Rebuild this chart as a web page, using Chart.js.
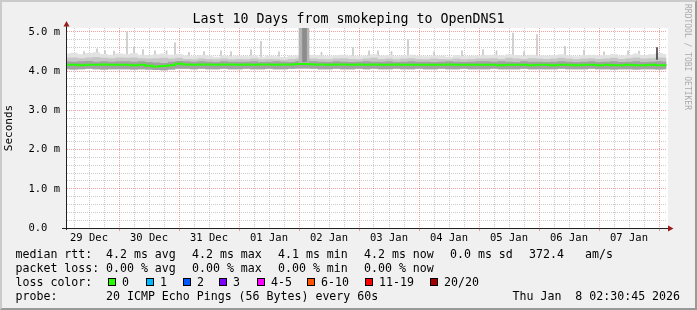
<!DOCTYPE html>
<html>
<head>
<meta charset="utf-8">
<title>Last 10 Days from smokeping to OpenDNS1</title>
<script src="https://cdn.jsdelivr.net/npm/chart.js@4.4.1/dist/chart.umd.min.js"></script>
<style>
  html, body { margin: 0; padding: 0; background: #f0f0f0; }
  #wrap { position: relative; width: 697px; height: 310px; overflow: hidden; background: #f0f0f0; }
  #smoke { position: absolute; left: 0; top: 0; }
  #frame { position: absolute; left: 0; top: 0; width: 697px; height: 310px; box-sizing: border-box;
           border: 2px solid; border-color: #cbcbcb #999999 #999999 #cbcbcb; pointer-events: none; }
  .txt { position: absolute; font-family: "DejaVu Sans Mono", monospace; font-size: 11.6px; line-height: 14px; white-space: pre; color: #000; }
  #title { position: absolute; left: 0; top: 11px; width: 697px; text-align: center; font-family: "DejaVu Sans Mono", monospace;
           font-size: 13.3px; line-height: 16px; white-space: pre; color: #000; }
  #credit { position: absolute; left: 683px; top: 4px; writing-mode: vertical-rl; font-family: "DejaVu Sans Mono", monospace;
            font-size: 8px; line-height: 9px; color: #aaaaaa; white-space: pre; }
  .box { position: absolute; width: 6px; height: 6px; border: 1px solid #000; }
</style>
</head>
<body>
<div id="wrap">
  <canvas id="smoke" width="697" height="310"></canvas>
  <div id="title">Last 10 Days from smokeping to OpenDNS1</div>
  <div id="credit">RRDTOOL / TOBI OETIKER</div>
  <div id="legend"></div>
  <div id="frame"></div>
</div>
<script>
// hours since 29 Dec 00:00, one sample every 3 hours
const sampleHours = [
    3, 6, 9, 12, 15, 18, 21, 24,
    27, 30, 33, 36, 39, 42, 45, 48,
    51, 54, 57, 60, 63, 66, 69, 72,
    75, 78, 81, 84, 87, 90, 93, 96,
    99, 102, 105, 108, 111, 114, 117, 120,
    123, 126, 129, 132, 135, 138, 141, 144,
    147, 150, 153, 156, 159, 162, 165, 168,
    171, 174, 177, 180, 183, 186, 189, 192,
    195, 198, 201, 204, 207, 210, 213, 216,
    219, 222, 225, 228, 231, 234, 237, 240,
    243
];

// median rtt (ms)
const medianRtt = [
    4.16, 4.16, 4.15, 4.16, 4.16, 4.17, 4.16, 4.16,
    4.16, 4.15, 4.16, 4.14, 4.12, 4.13, 4.15, 4.19,
    4.17, 4.16, 4.17, 4.17, 4.16, 4.17, 4.17, 4.16,
    4.17, 4.16, 4.17, 4.17, 4.16, 4.17, 4.17, 4.18,
    4.18, 4.17, 4.17, 4.16, 4.17, 4.17, 4.16, 4.17,
    4.16, 4.17, 4.16, 4.16, 4.17, 4.16, 4.16, 4.16,
    4.16, 4.16, 4.16, 4.17, 4.16, 4.16, 4.16, 4.16,
    4.16, 4.16, 4.15, 4.16, 4.16, 4.16, 4.15, 4.16,
    4.16, 4.15, 4.16, 4.16, 4.15, 4.16, 4.16, 4.15,
    4.16, 4.15, 4.15, 4.16, 4.15, 4.15, 4.16, 4.15,
    4.15
];

// smoke: lowest ping, dark band top, mid band top, highest ping (ms)
const smokeLow = [
    4.05, 4.04, 4.05, 4.06, 4.05, 4.04, 4.05, 4.05,
    4.05, 4.04, 4.05, 4.04, 4.03, 4.02, 4.04, 4.06,
    4.06, 4.05, 4.06, 4.05, 4.05, 4.06, 4.05, 4.05,
    4.06, 4.05, 4.05, 4.06, 4.05, 4.05, 4.06, 4.07,
    4.07, 4.06, 4.05, 4.05, 4.06, 4.05, 4.05, 4.06,
    4.05, 4.06, 4.05, 4.05, 4.06, 4.05, 4.05, 4.06,
    4.05, 4.05, 4.06, 4.05, 4.05, 4.06, 4.05, 4.05,
    4.05, 4.06, 4.05, 4.05, 4.05, 4.06, 4.05, 4.05,
    4.05, 4.05, 4.06, 4.05, 4.05, 4.05, 4.06, 4.05,
    4.05, 4.04, 4.05, 4.05, 4.04, 4.05, 4.05, 4.04,
    4.05
];
const smokeInner = [
    4.25, 4.24, 4.25, 4.26, 4.24, 4.25, 4.24, 4.25,
    4.25, 4.24, 4.25, 4.23, 4.22, 4.21, 4.24, 4.26,
    4.25, 4.24, 4.25, 4.24, 4.23, 4.25, 4.24, 4.24,
    4.24, 4.25, 4.23, 4.24, 4.25, 4.24, 4.23, 4.26,
    4.26, 4.25, 4.24, 4.23, 4.25, 4.24, 4.23, 4.24,
    4.25, 4.24, 4.24, 4.25, 4.23, 4.24, 4.25, 4.24,
    4.24, 4.23, 4.24, 4.25, 4.24, 4.23, 4.24, 4.25,
    4.25, 4.24, 4.25, 4.24, 4.23, 4.25, 4.24, 4.24,
    4.23, 4.24, 4.25, 4.24, 4.23, 4.24, 4.25, 4.23,
    4.24, 4.25, 4.23, 4.24, 4.25, 4.23, 4.24, 4.25,
    4.24
];
const smokeUpper = [
    4.34, 4.35, 4.33, 4.35, 4.36, 4.34, 4.33, 4.35,
    4.34, 4.35, 4.33, 4.32, 4.33, 4.34, 4.32, 4.34,
    4.31, 4.30, 4.32, 4.31, 4.30, 4.32, 4.30, 4.31,
    4.30, 4.32, 4.30, 4.31, 4.30, 4.29, 4.31, 4.32,
    4.33, 4.32, 4.31, 4.30, 4.32, 4.33, 4.31, 4.30,
    4.32, 4.34, 4.31, 4.32, 4.30, 4.32, 4.33, 4.31,
    4.30, 4.32, 4.31, 4.30, 4.32, 4.30, 4.31, 4.32,
    4.32, 4.33, 4.31, 4.34, 4.32, 4.31, 4.33, 4.32,
    4.31, 4.32, 4.34, 4.32, 4.30, 4.32, 4.33, 4.31,
    4.32, 4.34, 4.31, 4.33, 4.35, 4.32, 4.33, 4.35,
    4.34
];
const smokeTop = [
    4.45, 4.47, 4.43, 4.46, 4.48, 4.44, 4.42, 4.45,
    4.44, 4.46, 4.42, 4.41, 4.43, 4.45, 4.42, 4.44,
    4.40, 4.38, 4.41, 4.39, 4.37, 4.40, 4.38, 4.39,
    4.38, 4.40, 4.37, 4.39, 4.38, 4.36, 4.39, 4.40,
    4.42, 4.41, 4.39, 4.38, 4.40, 4.42, 4.39, 4.38,
    4.40, 4.43, 4.39, 4.41, 4.38, 4.40, 4.42, 4.39,
    4.38, 4.40, 4.39, 4.37, 4.41, 4.38, 4.39, 4.40,
    4.41, 4.42, 4.40, 4.43, 4.41, 4.39, 4.42, 4.40,
    4.39, 4.41, 4.43, 4.40, 4.38, 4.41, 4.42, 4.40,
    4.41, 4.44, 4.40, 4.42, 4.45, 4.41, 4.43, 4.46,
    4.44
];

// single slow pings sticking out of the smoke
const spikeBase = 4.30;
const spikeHours = [10, 15.2, 18.4, 22, 27.2, 30.0, 33.6, 38.4, 43, 46.4, 52, 58.0, 64.8, 68.8, 76.8, 80.8, 88,
    105, 117.6, 124, 127.6, 133, 139.6, 150, 161.2, 169.6, 175, 181.6, 186, 191.2, 202.4, 210, 218, 227.6, 232];
const spikeTops = [4.50, 4.57, 4.52, 4.51, 5.00, 4.62, 4.55, 4.52, 4.52, 4.72, 4.48, 4.50, 4.52, 4.50, 4.55, 4.76, 4.49,
    4.48, 4.60, 4.52, 4.52, 4.50, 4.80, 4.49, 4.52, 4.55, 4.52, 4.97, 4.50, 4.93, 4.63, 4.54, 4.49, 4.52, 4.51];
const darkSpikeHours = [239.2];
const darkSpikeTops = [4.60];

// the burst just after midnight on 02 Jan, runs off the top
const burstHours = [98.0];
const burstLow = [4.22];
const burstHigh = [5.3];
const burstCoreHours = [98.2];
const burstCoreLow = [4.24];

const dayLabels = ['29 Dec', '30 Dec', '31 Dec', '01 Jan', '02 Jan', '03 Jan', '04 Jan', '05 Jan', '06 Jan', '07 Jan'];

const rttStats = ['4.2 ms avg', '4.2 ms max', '4.1 ms min', '4.2 ms now', '0.0 ms sd'];
const lossStats = ['0.00 % avg', '0.00 % max', '0.00 % min', '0.00 % now'];
const lossLabels = ['0', '1', '2', '3', '4-5', '6-10', '11-19', '20/20'];
const lossColors = ['#26ff00', '#00b8ff', '#0059ff', '#7e00ff', '#ff00ff', '#ff5500', '#ff0000', '#a10000'];

const X_MIN = 3.2, X_MAX = 243.2;
const Y_MAX = 5.1;
const MAJOR = 'rgba(222, 48, 48, 0.45)';
const MINOR = 'rgba(143, 143, 143, 0.45)';

function series(values) {
    return values.map((v, i) => ({ x: sampleHours[i], y: v }));
}

function floating(hours, lows, highs) {
    return hours.map((h, i) => ({ x: h, y: [Array.isArray(lows) ? lows[i] : lows, highs[i]] }));
}

function band(values, color, order) {
    return {
        type: 'line',
        data: series(values),
        borderColor: 'rgba(0,0,0,0)',
        borderWidth: 0,
        backgroundColor: color,
        fill: { target: 0 },
        stepped: 'middle',
        pointRadius: 0,
        order
    };
}

function bars(data, color, thickness, order) {
    return {
        type: 'bar',
        data,
        backgroundColor: color,
        borderWidth: 0,
        barThickness: thickness,
        grouped: false,
        order
    };
}

const plotBackground = {
    id: 'plotBackground',
    beforeDraw(chart) {
        const { ctx, chartArea: a } = chart;
        ctx.save();
        ctx.fillStyle = '#ffffff';
        ctx.fillRect(a.left, a.top, a.right - a.left + 1, a.bottom - a.top);
        ctx.restore();
    }
};

const axisArrows = {
    id: 'axisArrows',
    afterDraw(chart) {
        const { ctx, chartArea: a } = chart;
        ctx.save();
        ctx.strokeStyle = '#202020';
        ctx.lineWidth = 1;
        ctx.beginPath();
        ctx.moveTo(a.left - 0.5, a.bottom + 2);
        ctx.lineTo(a.left - 0.5, a.top - 2);
        ctx.moveTo(a.left - 5, a.bottom + 0.5);
        ctx.lineTo(a.right + 1, a.bottom + 0.5);
        ctx.stroke();
        ctx.fillStyle = '#9b1c1c';
        ctx.beginPath();
        ctx.moveTo(a.left - 3.5, a.top - 1.5);
        ctx.lineTo(a.left + 2.5, a.top - 1.5);
        ctx.lineTo(a.left - 0.5, a.top - 7);
        ctx.closePath();
        ctx.fill();
        ctx.beginPath();
        ctx.moveTo(a.right + 1, a.bottom - 2.5);
        ctx.lineTo(a.right + 1, a.bottom + 3.5);
        ctx.lineTo(a.right + 6.5, a.bottom + 0.5);
        ctx.closePath();
        ctx.fill();
        ctx.restore();
    }
};

const xGridHours = [];
for (let h = 6; h <= 240; h += 6) xGridHours.push(h);
const yGridValues = [];
for (let i = 0; i <= 25; i++) yGridValues.push(Math.round(i * 2) / 10);

const isDay = v => v % 24 === 0;
const isWhole = v => Math.abs(v - Math.round(v)) < 1e-6;

new Chart(document.getElementById('smoke').getContext('2d'), {
    type: 'line',
    data: {
        datasets: [
            { type: 'line', data: series(smokeLow), borderColor: 'rgba(0,0,0,0)', borderWidth: 0, fill: false, pointRadius: 0, stepped: 'middle', order: 9 },
            band(smokeTop, '#e2e2e2', 6),
            band(smokeUpper, '#c6c6c6', 5),
            band(smokeInner, '#a2a2a2', 4),
            bars(floating(spikeHours, spikeBase, spikeTops), '#c8c8c8', 1, 7),
            bars(floating(burstHours, burstLow, burstHigh), '#b4b4b4', 10, 3),
            bars(floating(burstCoreHours, burstCoreLow, burstHigh), '#8c8c8c', 4, 2),
            bars(floating(darkSpikeHours, spikeBase, darkSpikeTops), '#404040', 1, 1),
            {
                type: 'line',
                data: series(medianRtt),
                borderColor: lossColors[0],
                borderWidth: 2,
                fill: false,
                stepped: 'middle',
                pointRadius: 0,
                order: 0
            }
        ]
    },
    options: {
        responsive: false,
        animation: false,
        devicePixelRatio: 1,
        events: [],
        layout: { padding: { left: 0, top: 28, right: 30, bottom: 0 } },
        plugins: { legend: { display: false }, tooltip: { enabled: false }, title: { display: false } },
        scales: {
            x: {
                type: 'linear',
                min: X_MIN,
                max: X_MAX,
                offset: false,
                z: 1,
                afterFit: s => { s.height = 82; },
                afterBuildTicks: s => { s.ticks = xGridHours.map(v => ({ value: v })); },
                grid: {
                    offset: false,
                    color: c => isDay(c.tick.value) ? MAJOR : MINOR,
                    drawTicks: true,
                    tickLength: 3,
                    tickColor: c => isDay(c.tick.value) ? MAJOR : 'rgba(0,0,0,0)'
                },
                border: { display: false, dash: [1, 1] },
                ticks: {
                    autoSkip: false,
                    maxRotation: 0,
                    minRotation: 0,
                    padding: 1,
                    color: '#000',
                    font: { family: 'DejaVu Sans Mono', size: 10.5 },
                    callback: v => (v % 24 === 12 ? dayLabels[(v - 12) / 24] : '')
                }
            },
            y: {
                min: 0,
                max: Y_MAX,
                z: 1,
                afterFit: s => { s.width = 67; },
                afterBuildTicks: s => { s.ticks = yGridValues.map(v => ({ value: v })); },
                grid: {
                    color: c => isWhole(c.tick.value) ? MAJOR : MINOR,
                    drawTicks: false
                },
                border: { display: false, dash: [1, 1] },
                ticks: {
                    autoSkip: false,
                    padding: 7,
                    color: '#000',
                    font: { family: 'DejaVu Sans Mono', size: 10.5 },
                    callback: v => {
                        if (!isWhole(v)) return '';
                        // rrdtool keeps the unit column free for zero
                        return Math.abs(v) < 1e-9 ? '0.0  ' : v.toFixed(1) + ' m';
                    }
                },
                title: {
                    display: true,
                    text: 'Seconds',
                    color: '#000',
                    padding: { top: 3, bottom: 0 },
                    font: { family: 'DejaVu Sans Mono', size: 11 }
                }
            }
        }
    },
    plugins: [plotBackground, axisArrows]
});

// legend below the graph
const legend = document.getElementById('legend');
function addText(x, y, str) {
    const el = document.createElement('div');
    el.className = 'txt';
    el.style.left = x + 'px';
    el.style.top = y + 'px';
    el.textContent = str;
    legend.appendChild(el);
}

const statCols = [106, 192, 278, 364, 450];
addText(15.5, 247, 'median rtt:');
rttStats.forEach((s, i) => addText(statCols[i], 247, s));
addText(529, 247, '372.4');
addText(585, 247, 'am/s');

addText(15.5, 261, 'packet loss:');
lossStats.forEach((s, i) => addText(statCols[i], 261, s));

addText(15.5, 275, 'loss color:');
const boxCols = [108, 146, 183, 219, 257, 307, 365, 430];
lossLabels.forEach((label, i) => {
    const b = document.createElement('div');
    b.className = 'box';
    b.style.left = boxCols[i] + 'px';
    b.style.top = '278px';
    b.style.background = lossColors[i];
    legend.appendChild(b);
    addText(boxCols[i] + 14, 275, label);
});

addText(15.5, 289, 'probe:');
addText(106, 289, '20 ICMP Echo Pings (56 Bytes) every 60s');
addText(512.5, 289, 'Thu Jan  8 02:30:45 2026');
</script>
</body>
</html>
